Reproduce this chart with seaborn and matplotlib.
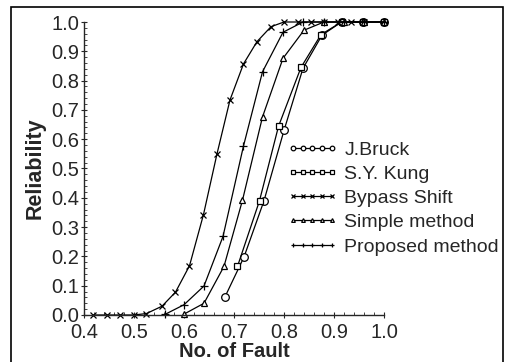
import pandas as pd
import matplotlib
matplotlib.use("Agg")
import matplotlib.pyplot as plt
import seaborn as sns
from matplotlib.patches import Rectangle
from matplotlib.ticker import MultipleLocator

# readings taken off the reference curves
bruck_x = [0.682, 0.720, 0.760, 0.800, 0.838, 0.876, 0.915, 0.958, 1.000]
bruck_y = [0.062, 0.198, 0.390, 0.630, 0.842, 0.955, 1.000, 1.000, 1.000]

kung_x = [0.707, 0.751, 0.789, 0.834, 0.874, 0.915, 0.958, 1.000]
kung_y = [0.166, 0.390, 0.644, 0.845, 0.957, 1.000, 1.000, 1.000]

bypass_x = [0.419, 0.446, 0.472, 0.500, 0.525, 0.556, 0.583, 0.611, 0.639,
            0.666, 0.692, 0.719, 0.746, 0.774, 0.800, 0.827, 0.853, 0.880,
            0.907, 0.933, 0.960]
bypass_y = [0.000, 0.000, 0.000, 0.000, 0.005, 0.030, 0.078, 0.168, 0.343,
            0.550, 0.734, 0.857, 0.933, 0.984, 1.000, 1.000, 1.000, 1.000,
            1.000, 1.000, 1.000]

simple_x = [0.600, 0.640, 0.680, 0.717, 0.757, 0.798, 0.840, 0.880, 0.920,
            0.960, 1.000]
simple_y = [0.003, 0.040, 0.166, 0.392, 0.676, 0.876, 0.972, 1.000, 1.000,
            1.000, 1.000]

proposed_x = [0.563, 0.600, 0.640, 0.678, 0.719, 0.757, 0.798, 0.838, 0.880,
              0.920, 0.960, 1.000]
proposed_y = [0.003, 0.035, 0.099, 0.268, 0.577, 0.830, 0.965, 1.000, 1.000,
              1.000, 1.000, 1.000]

series = [
    ("J.Bruck", bruck_x, bruck_y, dict(marker="o", markersize=5.5, markerfacecolor="white")),
    ("S.Y. Kung", kung_x, kung_y, dict(marker="s", markersize=5, markerfacecolor="white")),
    ("Bypass Shift", bypass_x, bypass_y, dict(marker="x", markersize=4)),
    ("Simple method", simple_x, simple_y, dict(marker="^", markersize=4.5, markerfacecolor="white")),
    ("Proposed method", proposed_x, proposed_y, dict(marker="+", markersize=5.5)),
]

sns.set_style("ticks")
plt.rcParams["font.family"] = ["Liberation Sans", "DejaVu Sans"]

fig = plt.figure(figsize=(5.05, 3.62), dpi=100)
ax = fig.add_axes([84 / 505, 47 / 362, 300 / 505, 293 / 362])

for name, xs, ys, style in series:
    df = pd.DataFrame({"x": xs, "y": ys})
    sns.lineplot(data=df, x="x", y="y", ax=ax, color="black", linewidth=0.9,
                 markeredgecolor="black", markeredgewidth=0.9, label=name,
                 clip_on=False, **style)

ax.set_xlim(0.4, 1.0)
ax.set_ylim(0.0, 1.0)
ax.xaxis.set_major_locator(MultipleLocator(0.1))
ax.yaxis.set_major_locator(MultipleLocator(0.1))
ax.xaxis.set_minor_locator(MultipleLocator(0.02))
ax.yaxis.set_minor_locator(MultipleLocator(0.02))
ax.tick_params(which="major", direction="inout", length=5, width=0.8,
               labelsize=14.5)
ax.tick_params(axis="x", which="major", pad=3)
ax.tick_params(axis="y", which="major", pad=1)
ax.tick_params(which="minor", direction="in", length=2.5, width=0.6)
ax.set_xticklabels([f"{v:.1f}" for v in ax.get_xticks()])
ax.set_yticklabels([f"{v:.1f}" for v in ax.get_yticks()])
sns.despine(ax=ax)
for s in ("left", "bottom"):
    ax.spines[s].set_linewidth(1.0)

ax.set_xlabel("No. of Fault", fontsize=14.5, fontweight="bold", labelpad=0)
ax.set_ylabel("Reliability", fontsize=15.5, fontweight="bold", labelpad=4)

ax.legend(loc="upper left", bbox_to_anchor=(287 / 505, 1 - 141 / 362),
          bbox_transform=fig.transFigure, frameon=False, numpoints=5,
          markerscale=0.6, fontsize=14, handlelength=2.6, handletextpad=0.35,
          labelspacing=0.34, borderpad=0, borderaxespad=0)

# outer frame round the figure
fig.patches.append(Rectangle((11 / 505, -0.05), 492 / 505, 1.05 - 7 / 362,
                             transform=fig.transFigure, fill=False,
                             edgecolor="black", linewidth=1.2))

fig.savefig("out.png", dpi=100)
